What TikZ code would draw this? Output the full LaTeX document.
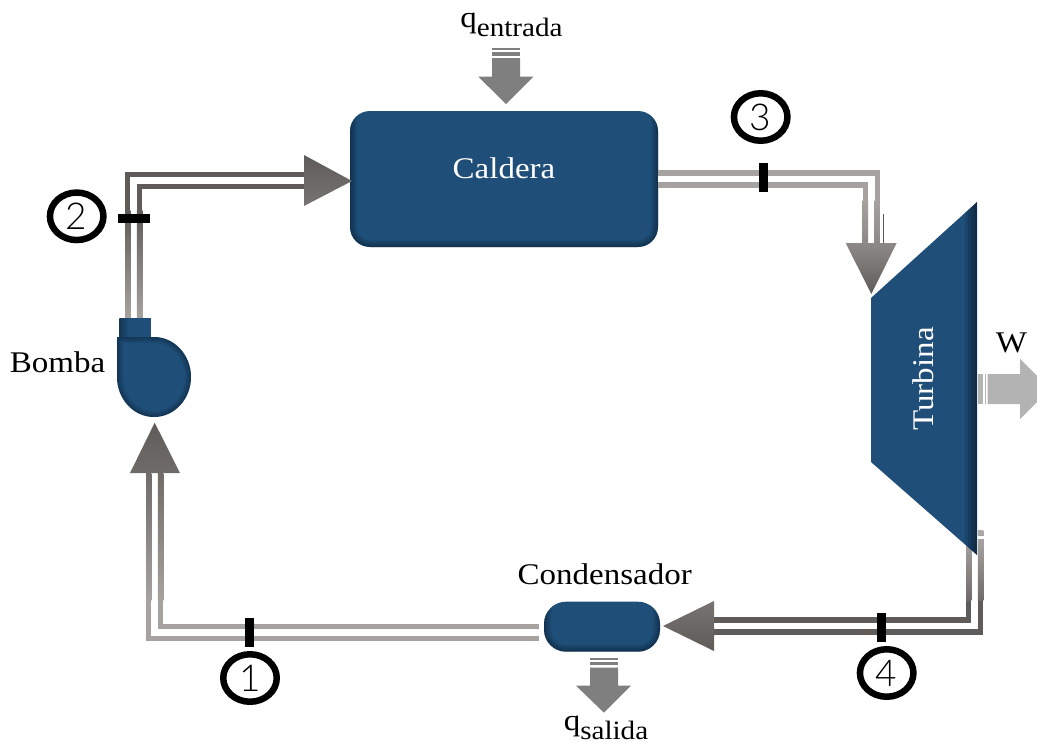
\documentclass[tikz,border=0pt]{standalone}
\usepackage{fontspec}
\setmainfont[FakeStretch=1.1]{Liberation Serif}
\newfontfamily\digitfont{Lato Light}
\usetikzlibrary{shapes.geometric}
\definecolor{boxblue}{HTML}{1F4E79}
\definecolor{pipelight}{HTML}{A5A2A0}
\definecolor{pipedark}{HTML}{5F5B59}
\definecolor{heatgrey}{HTML}{7F7F7F}
\definecolor{workgrey}{HTML}{B3B3B3}

\begin{document}
\begin{tikzpicture}
 [
  x=1pt, y=-1pt,
  pipe/.style     = {draw=#1, line width=5.4pt, double=white, double distance=6.5pt},
  edgeglow/.style = {path picture={
    \foreach \w in {14,12,10,8,6,4,2}
      \draw[black, opacity=.05, line width=\w pt, rounded corners=#1]
        ([yshift=9pt]path picture bounding box.north west) rectangle (path picture bounding box.south east);
   }},
  bluebox/.style  = {rectangle, fill=boxblue, inner sep=0pt, rounded corners=#1, edgeglow=#1},
  tick/.style     = {rectangle, fill=black, inner sep=0pt},
  station/.style  = {ellipse, draw, line width=6.5pt, inner sep=0pt, minimum width=53.5pt,
                     minimum height=47.5pt, font=\digitfont\fontsize{37}{37}\selectfont},
  plain/.style    = {inner sep=0pt, font=\fontsize{30}{31}\selectfont},
  onblue/.style   = {plain, text=white},
 ]
 \useasboundingbox (0,0) rectangle (1037,744);
 \def\subtext#1{\raisebox{-.28em}{\fontsize{26.5}{27}\selectfont #1}}
 \def\riser#1#2#3#4#5{
  \shade[top color=#4, bottom color=#5] (#1-8.65,#2) rectangle (#1-3.25,#3);
  \shade[top color=#4, bottom color=#5] (#1+3.25,#2) rectangle (#1+8.65,#3);
 }

 % pipe ends
 \coordinate (out1) at (539,632.5);
 \coordinate (head1) at (154.7,473);
 \coordinate (out2) at (133.7,318);
 \coordinate (head2) at (304,180.5);
 \coordinate (head3) at (871.3,243);
 \coordinate (out4) at (974.7,530);
 \coordinate (head4) at (714,626);

 % equipment
 \node (caldera) at (504,179) [bluebox=20pt, minimum width=308pt, minimum height=136pt]{};
 \node (condensador) at (602,626.7) [bluebox=22pt, minimum width=116pt, minimum height=50pt]{};

 % the pipes
 \draw[pipe=pipelight] (out1) -| (head1);
 \riser{154.7}{473}{600}{pipedark!90!white}{pipelight}
 \draw[pipe=pipedark] (out2) |- (head2);
 \riser{133.7}{210}{318}{pipedark}{pipelight}
 \draw[pipe=pipelight] (caldera.east) -| (head3);
 \riser{871.3}{200}{243}{pipelight}{pipelight!85!black}
 \draw[pipe=pipedark] (out4) |- (head4);
 \riser{974.7}{530}{600}{pipelight!90!white}{pipedark!90!white}
 \fill[white] (966,536) rectangle (984,538.5);
 \draw[black!65, line width=.8pt] (883.7,214) -- (883.7,252);

 % flow heads
 \shade[top color=pipedark, bottom color=pipedark!90!white] (130,473) -- (154.7,422.7) -- (180,473) -- cycle;
 \shade[top color=pipedark, bottom color=pipedark!85!white] (304,155) -- (352,181) -- (304,206) -- cycle;
 \shade[top color=pipelight!85!black, bottom color=pipedark] (845.7,243) -- (896.7,243) -- (871.3,294) -- cycle;
 \shade[top color=pipedark!85!white, bottom color=pipedark] (714,601) -- (663,626) -- (714,651) -- cycle;

 % turbine and pump
 \fill[boxblue, path picture={
   \foreach \w in {12,9,6,3}
     \fill[black, opacity=.12] (977-\w,190) rectangle (977,570);
  }] (871,298) -- (977,202) -- (977,555) -- (871,462) -- cycle;
 \def\pumpbody{(117,337) -- (154,337) arc[start angle=-90, end angle=180, x radius=37, y radius=40] -- cycle}
 \shade[left color=boxblue!70!black, right color=boxblue] (119.3,318) rectangle (129,338);
 \fill[boxblue] (129,318) rectangle (151,338);
 \fill[boxblue] \pumpbody;
 \begin{scope}
  \clip \pumpbody;
  \foreach \w in {12,10,8,6,4,2}
    \draw[black, opacity=.05, line width=\w pt] \pumpbody;
 \end{scope}

 % heat and work arrows
 \fill[heatgrey] (492,58) -- (520,58) -- (520,76.7) -- (533.3,76.7) -- (506,104) -- (478.3,76.7) -- (492,76.7) -- cycle;
 \fill[heatgrey] (492,48.3) rectangle (520,50.2);
 \fill[heatgrey] (492,52.3) rectangle (520,55.6);
 \fill[heatgrey] (590,667.5) -- (618,667.5) -- (618,685.7) -- (631,685.7) -- (604,712.7) -- (576,685.7) -- (590,685.7) -- cycle;
 \fill[heatgrey] (590,657.7) rectangle (618,659.6);
 \fill[heatgrey] (590,661.7) rectangle (618,665);
 \fill[workgrey] (987.5,374) -- (1020,374) -- (1020,359) -- (1037,376) -- (1037,402) -- (1020,419) -- (1020,404) -- (987.5,404) -- cycle;
 \fill[workgrey] (978,374) rectangle (983,404);
 \fill[workgrey] (984.5,374) rectangle (986,404);

 % marks
 \node (tick1) at (249.8,632.8) [tick, minimum width=9pt, minimum height=29pt]{};
 \node (tick2) at (133.8,218.8) [tick, minimum width=32.3pt, minimum height=9pt]{};
 \node (tick3) at (763.3,177.5) [tick, minimum width=9.3pt, minimum height=28.4pt]{};
 \node (tick4) at (881.2,627.5) [tick, minimum width=9pt, minimum height=28.4pt]{};
 \node (state1) at (250,678) [station]{1};
 \node (state2) at (76.7,216.3) [station]{2};
 \node (state3) at (760.7,117) [station]{3};
 \node (state4) at (886.7,673) [station]{4};

 % labels
 \node (calderaName) at (504,168) [onblue]{Caldera};
 \node (turbinaName) at (923,379) [onblue, rotate=90]{Turbina};
 \node (bombaName) at (57.5,362) [plain]{Bomba};
 \node (condensadorName) at (604.7,574) [plain]{Condensador};
 \node (workName) at (1011.5,343) [plain]{W};
 \node (heatIn) at (511.5,25) [plain]{q\subtext{entrada}};
 \node (heatOut) at (606,728) [plain]{q\subtext{salida}};
\end{tikzpicture}
\end{document}
